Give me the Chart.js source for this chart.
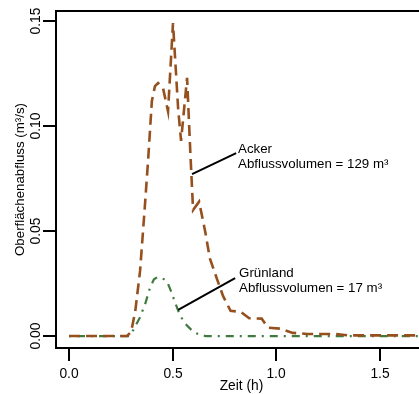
<!DOCTYPE html>
<html>
<head>
<meta charset="utf-8">
<script src="https://cdn.jsdelivr.net/npm/chart.js@4"></script>
<style>
html,body{margin:0;padding:0;background:#fff;}
canvas{display:block;}
</style>
</head>
<body>
<canvas id="c" width="419" height="394"></canvas>
<script>
// ---- data ----
const ackerTime = [0, 0.28, 0.30, 0.32, 0.343, 0.367, 0.382, 0.40, 0.415, 0.43, 0.454, 0.478, 0.502, 0.527, 0.541, 0.570, 0.585, 0.599, 0.628, 0.657, 0.68, 0.715, 0.744, 0.78, 0.83, 0.87, 0.93, 0.96, 1.02, 1.08, 1.15, 1.28, 1.35, 1.75];
const ackerQ    = [0, 0, 0.002, 0.012, 0.031, 0.063, 0.084, 0.112, 0.119, 0.1205, 0.118, 0.107, 0.149, 0.108, 0.093, 0.123, 0.089, 0.060, 0.064, 0.050, 0.037, 0.027, 0.019, 0.012, 0.0115, 0.0085, 0.0083, 0.004, 0.0035, 0.0015, 0.001, 0.001, 0.0003, 0.0003];
const gruenTime = [0, 0.29, 0.30, 0.343, 0.37, 0.391, 0.41, 0.425, 0.44, 0.46, 0.473, 0.49, 0.512, 0.535, 0.56, 0.60, 0.633, 0.66, 1.75];
const gruenQ    = [0, 0, 0.001, 0.009, 0.016, 0.023, 0.027, 0.028, 0.0278, 0.027, 0.026, 0.022, 0.016, 0.010, 0.006, 0.002, 0.0005, 0, 0];
const xTicks = [0, 0.5, 1.0, 1.5];
const xTickLabels = ['0.0', '0.5', '1.0', '1.5'];
const yTicks = [0, 0.05, 0.10, 0.15];
const yTickLabels = ['0.00', '0.05', '0.10', '0.15'];
const xTitle = 'Zeit (h)';
const yTitle = 'Oberflächenabfluss (m³/s)';
const seriesNames = ['Acker', 'Grünland'];
const volumeLabels = ['Abflussvolumen = 129 m³', 'Abflussvolumen = 17 m³'];

const FONT = '13.3px "Liberation Sans", Arial, sans-serif';
const AXFONT = '13.8px "Liberation Sans", Arial, sans-serif';

const annotations = [
  {from: [0.594, 0.0771], to: [0.807, 0.0871], text: [0.816, 0.0871], lines: [seriesNames[0], volumeLabels[0]]},
  {from: [0.527, 0.0124], to: [0.802, 0.0276], text: [0.821, 0.0281], lines: [seriesNames[1], volumeLabels[1]]}
];

const axesPlugin = {
  id: 'rAxes',
  afterDraw(chart) {
    const ctx = chart.ctx;
    const a = chart.chartArea;
    const xs = chart.scales.x, ys = chart.scales.y;
    ctx.save();
    ctx.strokeStyle = '#000';
    ctx.fillStyle = '#000';
    ctx.lineWidth = 2;
    ctx.lineCap = 'butt';
    // box (left, top, bottom)
    ctx.beginPath();
    ctx.moveTo(a.right + 2, a.top);
    ctx.lineTo(a.left, a.top);
    ctx.lineTo(a.left, a.bottom);
    ctx.lineTo(a.right + 2, a.bottom);
    ctx.stroke();
    ctx.font = AXFONT;
    // x ticks
    ctx.textAlign = 'center';
    ctx.textBaseline = 'middle';
    xTicks.forEach((v, i) => {
      const px = Math.round(xs.getPixelForValue(v));
      ctx.beginPath();
      ctx.moveTo(px, a.bottom);
      ctx.lineTo(px, a.bottom + 13);
      ctx.stroke();
      ctx.fillText(xTickLabels[i], px, a.bottom + 26);
    });
    // y ticks
    yTicks.forEach((v, i) => {
      const py = Math.round(ys.getPixelForValue(v));
      ctx.beginPath();
      ctx.moveTo(a.left, py);
      ctx.lineTo(a.left - 13, py);
      ctx.stroke();
      ctx.save();
      ctx.translate(a.left - 20, py);
      ctx.rotate(-Math.PI / 2);
      ctx.fillText(yTickLabels[i], 0, 0);
      ctx.restore();
    });
    // axis titles
    ctx.fillText(xTitle, (a.left + a.right) / 2 + 4, a.bottom + 38);
    ctx.font = FONT;
    ctx.save();
    ctx.translate(20, (a.top + a.bottom) / 2);
    ctx.rotate(-Math.PI / 2);
    ctx.fillText(yTitle, 0, 0);
    ctx.restore();
    // annotations
    ctx.textAlign = 'left';
    ctx.textBaseline = 'alphabetic';
    annotations.forEach(an => {
      ctx.beginPath();
      ctx.moveTo(xs.getPixelForValue(an.from[0]), ys.getPixelForValue(an.from[1]));
      ctx.lineTo(xs.getPixelForValue(an.to[0]), ys.getPixelForValue(an.to[1]));
      ctx.stroke();
      const tx = xs.getPixelForValue(an.text[0]);
      const ty = ys.getPixelForValue(an.text[1]);
      an.lines.forEach((l, k) => ctx.fillText(l, tx, ty + k * 14.5));
    });
    ctx.restore();
  }
};

new Chart(document.getElementById('c'), {
  type: 'line',
  data: {
    datasets: [
      {
        label: seriesNames[0],
        data: ackerTime.map((t, i) => ({x: t, y: ackerQ[i]})),
        borderColor: '#96501e',
        borderWidth: 2.6,
        borderDash: [11, 6],
        pointRadius: 0,
        tension: 0,
        fill: false
      },
      {
        label: seriesNames[1],
        data: gruenTime.map((t, i) => ({x: t, y: gruenQ[i]})),
        borderColor: '#3f7a3f',
        borderWidth: 2.2,
        borderDash: [2, 6, 8, 6],
        pointRadius: 0,
        tension: 0,
        fill: false
      }
    ]
  },
  options: {
    responsive: false,
    animation: false,
    layout: {padding: {left: 56, top: 11, right: 0, bottom: 46}},
    plugins: {legend: {display: false}, tooltip: {enabled: false}},
    scales: {
      x: {type: 'linear', min: -0.063, max: 1.69, display: false},
      y: {type: 'linear', min: -0.0057, max: 0.1548, display: false}
    }
  },
  plugins: [axesPlugin]
});
</script>
</body>
</html>
